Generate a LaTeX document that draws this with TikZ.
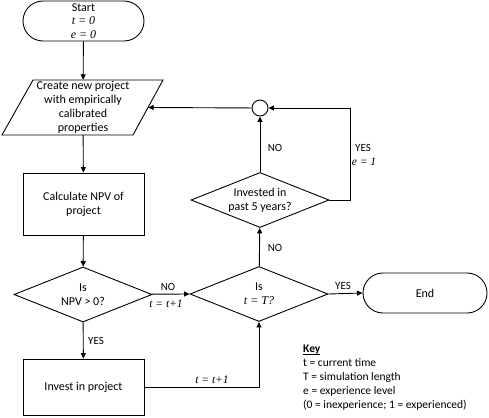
\documentclass[tikz,border=0pt]{standalone}
\usepackage{fontspec}
\setmainfont{Carlito}
\newfontfamily\mserif{Liberation Serif}
\usetikzlibrary{shapes.geometric,arrows.meta}
\newcommand\keyul[1]{\setbox0\hbox{#1}\rlap{\rule[-1.8pt]{\wd0}{0.6pt}}\box0}
\begin{document}
\begin{tikzpicture}[x=1pt,y=-1pt,
  font=\fontsize{12}{14}\selectfont,
  line/.style={draw=black, line width=0.9pt},
  arr/.style={line, -{Triangle[length=5.5pt,width=5pt]}},
  term/.style={draw, line width=0.9pt, rounded corners=20pt, minimum width=121pt, minimum height=40pt, align=center, inner sep=0pt},
  proc/.style={draw, line width=0.9pt, minimum width=121pt, minimum height=62pt, align=center, inner sep=0pt},
  decision/.style={draw, line width=0.9pt, diamond, shape aspect=2.5, minimum width=138pt, minimum height=55pt, align=center, inner sep=0pt},
  lbl/.style={inner sep=1pt, font=\fontsize{11}{12}\selectfont},
  mth/.style={font=\mserif\itshape\fontsize{11.5}{13.5}\selectfont}]
\useasboundingbox (0,0) rectangle (489,417);

% nodes
\node[term] (start) at (83.5,21) {Start\\[-0.5pt]{\mserif\itshape t = 0}\\[-0.5pt]{\mserif\itshape e = 0}};
\node[minimum width=130pt, minimum height=55pt, inner sep=0pt, align=center] (create) at (83,107.5)
  {Create new project\\with empirically\\calibrated\\properties};
\draw[line width=0.9pt] (33,80) -- (163,80) -- (133,135) -- (2,135) -- cycle;
\node[proc] (calc) at (83.5,204) {Calculate NPV of\\project};
\node[decision] (d1) at (83,294.5) {Is\\NPV > 0?};
\node[proc, minimum height=56pt] (invest) at (83.5,387) {Invest in project};
\node[decision] (d2) at (259,294) {Is\\{\mserif\itshape t = T?}};
\node[decision] (d3) at (260,200) {Invested in\\past 5 years?};
\node[draw, circle, line width=0.9pt, minimum size=16pt, inner sep=0pt] (jn) at (260,108) {};
\node[term, minimum width=124pt] (end) at (425,293) {End};

\coordinate (ycorner1) at (350,200);
\coordinate (ycorner2) at (350,108);
\coordinate (icorner) at (259,387);

% connectors
\draw[arr] (start) -- (create);
\draw[arr] (create) -- (calc);
\draw[arr] (calc) -- (d1);
\draw[arr] (d1) -- (d2.west);
\draw[arr] (d1) -- (invest);
\draw[arr] (invest.east) -- (icorner) -- (d2.south);
\draw[arr] (d2) -- (d3);
\draw[arr] (d3) -- (jn);
\draw[arr] (d3.east) -- (ycorner1) -- (ycorner2) -- (jn.east);
\draw[arr] (jn) -- (create.east);
\draw[arr] (d2.east) -- (end.west);

% labels
\node[lbl] at (168,287) {NO};
\node[lbl, mth] at (166,304) {t = t+1};
\node[lbl] at (96,341) {YES};
\node[lbl, mth] at (212,380) {t = t+1};
\node[lbl] at (275,248) {NO};
\node[lbl] at (275,148) {NO};
\node[lbl] at (363,148) {YES};
\node[lbl, mth] at (364,162) {e = 1};
\node[lbl] at (343,286) {YES};

\node[anchor=north west, align=left, inner sep=0pt, font=\fontsize{11.5}{14}\selectfont] (key) at (303,345)
  {\keyul{\textbf{Key}}\\t = current time\\T = simulation length\\e = experience level\\(0 = inexperience; 1 = experienced)};
\end{tikzpicture}
\end{document}
